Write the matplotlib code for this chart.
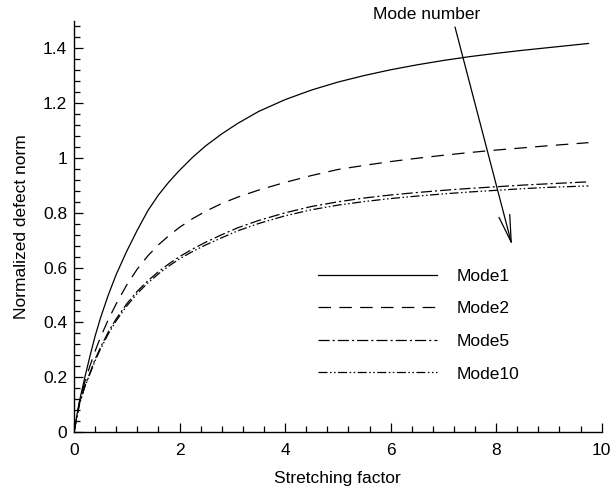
import matplotlib
matplotlib.use("Agg")
import matplotlib.pyplot as plt
from matplotlib.ticker import MultipleLocator, FuncFormatter

plt.rcParams["font.family"] = ["Liberation Sans", "DejaVu Sans"]
plt.rcParams["lines.scale_dashes"] = False

# Stretching factor samples (shared by all modes)
stretch = [0, 0.1, 0.2, 0.3, 0.4, 0.5, 0.65, 0.8, 1.0, 1.2, 1.4, 1.6, 1.8, 2.0,
           2.25, 2.5, 2.8, 3.1, 3.5, 4.0, 4.5, 5.0, 5.5, 6.0, 6.5, 7.0, 7.5,
           8.0, 8.5, 9.0, 9.75]

# Normalized defect norm per mode
norm_mode1 = [0, 0.11, 0.195, 0.275, 0.35, 0.415, 0.50, 0.575, 0.66, 0.737, 0.808,
              0.865, 0.913, 0.955, 1.003, 1.045, 1.088, 1.126, 1.170, 1.213, 1.248,
              1.277, 1.301, 1.322, 1.340, 1.356, 1.370, 1.382, 1.393, 1.403, 1.418]
norm_mode2 = [0, 0.105, 0.18, 0.24, 0.295, 0.345, 0.41, 0.468, 0.537, 0.595, 0.643,
              0.683, 0.717, 0.747, 0.779, 0.806, 0.834, 0.857, 0.883, 0.911, 0.936,
              0.958, 0.973, 0.987, 0.999, 1.010, 1.020, 1.029, 1.037, 1.045, 1.056]
norm_mode5 = [0, 0.10, 0.165, 0.215, 0.265, 0.308, 0.365, 0.413, 0.468, 0.514, 0.552,
              0.585, 0.614, 0.640, 0.668, 0.693, 0.720, 0.745, 0.772, 0.800, 0.823,
              0.840, 0.854, 0.865, 0.874, 0.882, 0.889, 0.895, 0.901, 0.906, 0.913]
norm_mode10 = [0, 0.098, 0.162, 0.211, 0.26, 0.302, 0.358, 0.406, 0.46, 0.506, 0.544,
               0.577, 0.606, 0.632, 0.659, 0.683, 0.709, 0.734, 0.761, 0.789, 0.811,
               0.828, 0.841, 0.852, 0.861, 0.869, 0.876, 0.882, 0.888, 0.893, 0.898]

labels = ["Mode1", "Mode2", "Mode5", "Mode10"]
styles = ["-", (0, (9, 6)), (0, (8, 2.2, 1.5, 2.2)),
          (0, (6.5, 1.8, 1.1, 1.8, 1.1, 1.8))]

fig = plt.figure(figsize=(6.12, 4.91), dpi=100)
ax = fig.add_axes([74 / 612, 59 / 491, 527.7 / 612, 411 / 491])

for ys, lab, ls in zip([norm_mode1, norm_mode2, norm_mode5, norm_mode10], labels, styles):
    ax.plot(stretch, ys, color="black", lw=0.9, linestyle=ls, label=lab)

ax.set_xlim(0, 10)
ax.set_ylim(0, 1.5)
for side in ("top", "right"):
    ax.spines[side].set_visible(False)
for side in ("left", "bottom"):
    ax.spines[side].set_linewidth(1.0)

ax.xaxis.set_major_locator(MultipleLocator(2))
ax.xaxis.set_minor_locator(MultipleLocator(0.4))
ax.yaxis.set_major_locator(MultipleLocator(0.2))
ax.yaxis.set_minor_locator(MultipleLocator(0.04))
fmt = FuncFormatter(lambda v, p: f"{v:g}")
ax.xaxis.set_major_formatter(fmt)
ax.yaxis.set_major_formatter(fmt)
ax.tick_params(which="both", direction="in", width=0.9, labelsize=12.5)
ax.tick_params(which="major", length=6.5)
ax.tick_params(which="minor", length=4)
ax.tick_params(axis="x", pad=8)
ax.tick_params(axis="y", pad=5)

ax.set_xlabel("Stretching factor", fontsize=12.5)
ax.set_ylabel("Normalized defect norm", fontsize=12.5)
ax.xaxis.set_label_coords(0.5, -0.095)
ax.yaxis.set_label_coords(-0.085, 0.5)

ax.legend(loc="upper left", bbox_to_anchor=(0.462, 0.397), frameon=False,
          fontsize=12.5, handlelength=6.85, handletextpad=1.15,
          labelspacing=1.0, borderpad=0, borderaxespad=0)

# Arrow indicating increasing mode number
ax.annotate("", xy=(8.30, 0.682), xytext=(7.22, 1.478),
            arrowprops=dict(arrowstyle="->,head_length=1.95,head_width=0.4",
                            mutation_scale=10, color="black", lw=0.9,
                            shrinkA=0, shrinkB=0),
            annotation_clip=False)
ax.text(6.69, 1.522, "Mode number", fontsize=12.5, ha="center", va="center",
        clip_on=False)

fig.savefig("out.png", dpi=100)
